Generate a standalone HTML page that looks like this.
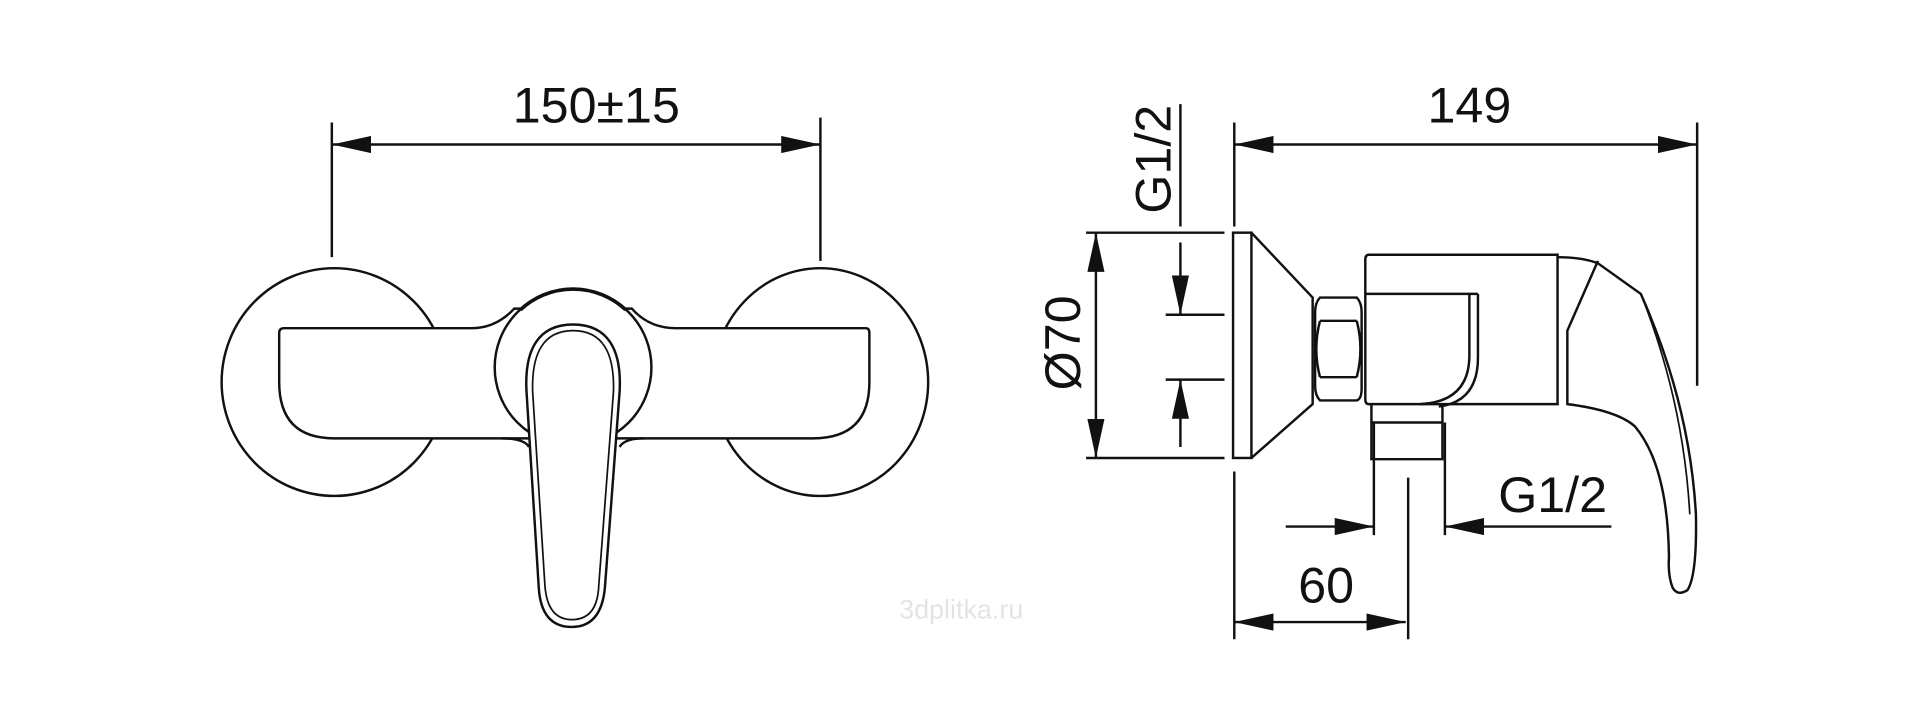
<!DOCTYPE html>
<html><head><meta charset="utf-8"><style>html,body{margin:0;padding:0;background:#fff}svg{display:block}</style></head>
<body>
<svg width="1920" height="728" viewBox="0 0 1568 594.5" xmlns="http://www.w3.org/2000/svg" font-family="Liberation Sans, Arial, sans-serif">
<defs>
<marker id="a" viewBox="0 0 32 14" refX="32" refY="7" markerWidth="32" markerHeight="14" markerUnits="userSpaceOnUse" orient="auto-start-reverse"><path d="M0,0 L32,7 L0,14 Z" fill="#111"/></marker>
</defs>
<g stroke="#111" stroke-width="2" fill="none">
<!-- LEFT VIEW -->
<line x1="271" y1="100" x2="271" y2="210"/>
<line x1="670" y1="96" x2="670" y2="213"/>
<line x1="271" y1="118" x2="670" y2="118" marker-start="url(#a)" marker-end="url(#a)"/>
<ellipse cx="273" cy="312" rx="92" ry="93" fill="#fff"/>
<ellipse cx="670" cy="312" rx="88" ry="93" fill="#fff"/>
<path d="M232,268 L385,268 Q405,268 420,252 L516,252 Q530,268 552,268 L707,268 Q710,268 710,272 L710,312 Q710,358 664,358 L510,358 L428,358 L273,358 Q228,358 228,312 L228,272 Q228,268 232,268 Z" fill="#fff"/>
<circle cx="468" cy="300" r="64" fill="#fff"/>
<path d="M425,253 A63,63 0 0 1 511,253" stroke-width="3"/>
<path d="M410,358 Q428,358 432,365 M526,358 Q510,358 506,365"/>
<path d="M468,265 C440,265 428,285 430,320 L440,480 Q442,512 467,512 Q491,512 494,480 L506,320 C508,285 496,265 468,265 Z" fill="#fff"/>
<path d="M468,270 C444,270 434,288 435,320 L445,478 Q447,506 467,506 Q488,506 489,478 L501,320 C502,288 492,270 468,270 Z" stroke-width="1.4"/>

<!-- RIGHT VIEW -->
<line x1="1008" y1="100" x2="1008" y2="185"/>
<line x1="1386" y1="100" x2="1386" y2="315"/>
<line x1="1008" y1="118" x2="1386" y2="118" marker-start="url(#a)" marker-end="url(#a)"/>
<line x1="964" y1="85" x2="964" y2="185"/>
<line x1="887" y1="190" x2="1000" y2="190"/>
<line x1="887" y1="374" x2="1000" y2="374"/>
<line x1="895" y1="190" x2="895" y2="374" marker-start="url(#a)" marker-end="url(#a)"/>
<line x1="952" y1="257" x2="1000" y2="257"/>
<line x1="952" y1="310" x2="1000" y2="310"/>
<line x1="964" y1="198" x2="964" y2="257" marker-end="url(#a)"/>
<line x1="964" y1="365" x2="964" y2="310" marker-end="url(#a)"/>
<rect x="1007" y="190" width="15" height="184"/>
<path d="M1022,190 L1072,243 L1072,330 L1022,374"/>
<path d="M1078,243 L1108,243 Q1112,247 1112,255 L1112,317 Q1112,326 1108,327 L1078,327 Q1074,323 1074,315 L1074,255 Q1074,247 1078,243 Z"/>
<path d="M1078,262 L1108,262 M1078,308 L1108,308 M1078,262 Q1072,285 1078,308 M1108,262 Q1114,285 1108,308"/>
<path d="M1118,208 L1272,208 L1272,330 L1118,330 Q1115,330 1115,326 L1115,212 Q1115,208 1118,208 Z"/>
<line x1="1115" y1="240" x2="1207" y2="240"/>
<path d="M1200,240 L1200,290 Q1200,328 1160,330"/>
<path d="M1207,240 L1207,292 Q1207,328 1175,332"/>
<path d="M1120,330 L1120,375 L1178,375 L1178,330 M1120,345 L1178,345"/>
<path d="M1272,210 Q1292,210 1305,215 L1340,240 Q1380,330 1385,420 Q1386,470 1378,482 Q1370,487 1366,480 Q1362,470 1363,455 Q1362,380 1335,348 Q1320,335 1280,330 L1280,270 L1305,213"/>
<path d="M1342,245 Q1375,330 1380,420" stroke-width="1.4"/>
<line x1="1122" y1="345" x2="1122" y2="437"/>
<line x1="1180" y1="345" x2="1180" y2="437"/>
<line x1="1050" y1="430" x2="1122" y2="430" marker-end="url(#a)"/>
<line x1="1316" y1="430" x2="1180" y2="430" marker-end="url(#a)"/>
<line x1="1150" y1="390" x2="1150" y2="522"/>
<line x1="1008" y1="385" x2="1008" y2="522"/>
<line x1="1008" y1="508" x2="1148" y2="508" marker-start="url(#a)" marker-end="url(#a)"/>
</g>
<g fill="#111" font-size="41" text-anchor="middle">
<text x="487" y="100">150±15</text>
<text x="1200" y="100">149</text>
<text x="1268" y="418">G1/2</text>
<text x="1083" y="492">60</text>
<text transform="translate(956,130) rotate(-90)">G1/2</text>
<text transform="translate(882,280) rotate(-90)">Ø70</text>
</g>
<text x="785" y="505" font-size="22" fill="#e4e4e4" text-anchor="middle">3dplitka.ru</text>
</svg>
</body></html>
